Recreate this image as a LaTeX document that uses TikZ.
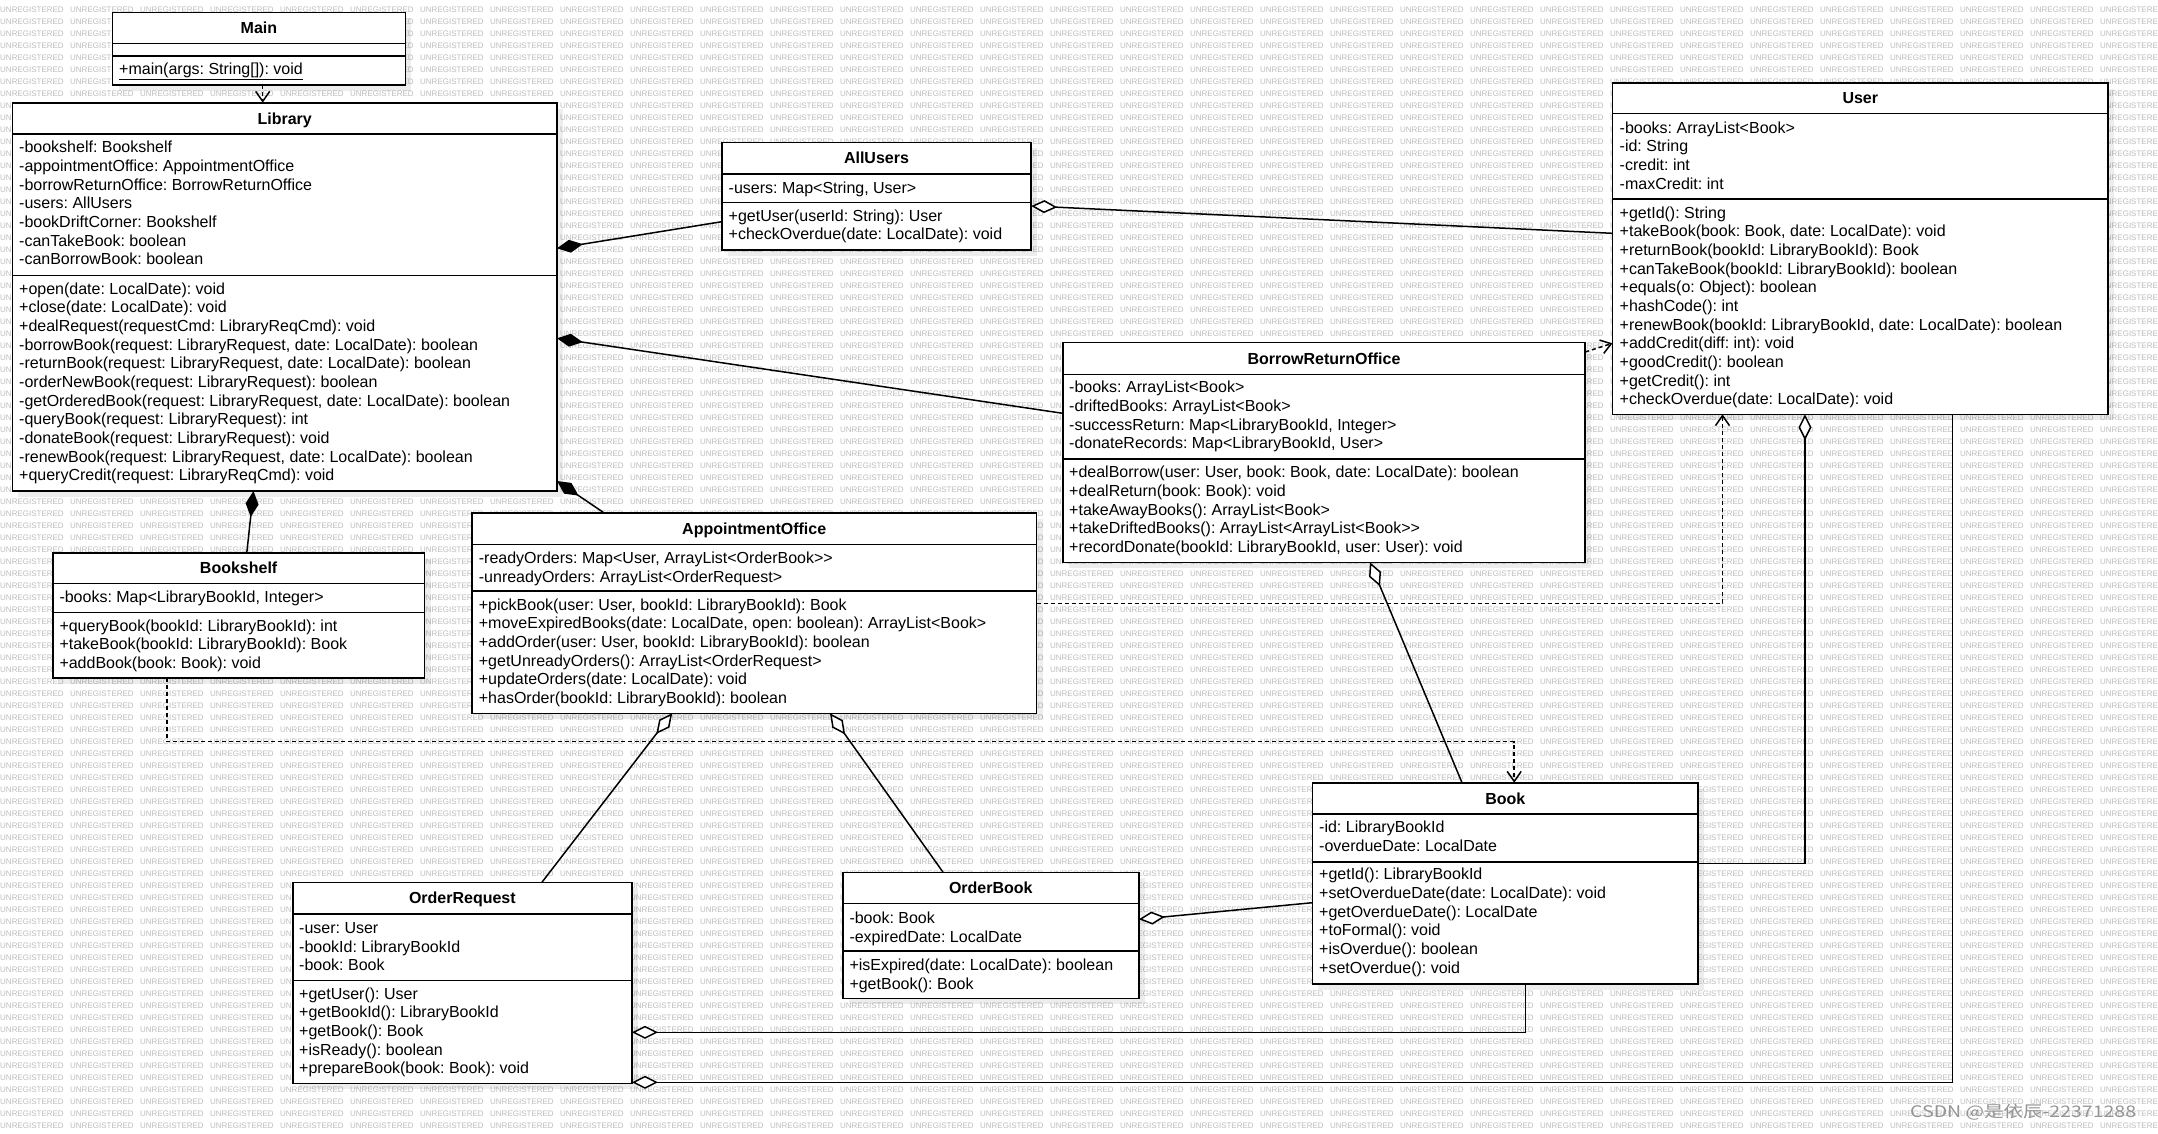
\documentclass[tikz,border=0pt]{standalone}
\usepackage{fontspec}
\newfontfamily\uml{Liberation Sans}
\newfontfamily\cjk{Noto Sans CJK SC}
\usetikzlibrary{arrows.meta}
\frenchspacing
\newcommand\wmw{\makebox[70pt][l]{UNREGISTERED}}
\newcommand\wmfour{\wmw\wmw\wmw\wmw}
\newcommand\wmrow{\wmfour\wmfour\wmfour\wmfour\wmfour\wmfour\wmfour\wmw\wmw\wmw}
\tikzset{
  box/.style={draw, line width=1.6pt, fill=white, inner sep=0pt, outer sep=0pt, anchor=north west},
  divider/.style={line width=1.6pt},
  boxshadow/.style={fill=black, opacity=0.07},
  ttl/.style={font=\uml\bfseries\fontsize{16}{19}\selectfont\frenchspacing, inner sep=0pt, anchor=base},
  mem/.style={font=\uml\fontsize{16}{19}\selectfont\frenchspacing, inner sep=0pt, anchor=base west},
  wm/.style={font=\uml\fontsize{8}{8}\selectfont, text=black!26, inner sep=0pt, anchor=base west},
  conn/.style={line width=1.5pt},
  comp/.style={conn, {Diamond[length=26pt,width=13pt]}-},
  aggr/.style={conn, {Diamond[open,fill=white,length=26pt,width=13pt]}-},
  dep/.style={conn, dash pattern=on 4pt off 3pt, -{Straight Barb[length=10pt,width=14pt]}},
}
% #1 name, #2 left, #3 top, #4 right, #5 header line, #6 divider, #7 bottom, #8 title
\newcommand\umlbox[8]{%
  \fill[boxshadow] ({#2+6},{#3+6}) rectangle ({#4+6},{#7+6});
  \node[box, minimum width={(#4-#2)*1pt}, minimum height={(#7-#3)*1pt}] (#1) at (#2,#3) {};
  \draw[divider] (#2,#5) -- (#4,#5);
  \draw[divider] (#2,#6) -- (#4,#6);
  \node[ttl] (#1t) at ({(#2+#4)/2},{(#3+#5)/2+5.8}) {#8};
}
% #1 prefix, #2 x, #3 first line centre, #4 list
\newcommand\mlist[4]{%
  \foreach \mt [count=\mi] in {#4}{\node[mem] (#1\mi) at (#2,{#3+5.5+(\mi-1)*18.65}) {\mt};}
}
\begin{document}
\begin{tikzpicture}[x=1pt,y=-1pt]
\useasboundingbox (0,0) rectangle (2158,1133);
\fill[white] (0,0) rectangle (2158,1133);
% watermark
\foreach \k in {0,...,93} \node[wm] (wm\k) at (0,{12+12*\k}) {\wmrow};
\node[font=\cjk\fontsize{16}{16}\selectfont, text=black!42, inner sep=0pt, anchor=west] (csdn) at (1910,1112.3) {\scalebox{1.22}[1]{CSDN @是依辰-22371288}};

% ---- classes ----
\umlbox{main}{112.5}{12.3}{405.4}{43.3}{56}{85}{Main}
\node[mem] (main1) at (119,{69.3+5.5}) {\underline{+main(args: String[]): void}};

\umlbox{lib}{12.4}{102.7}{557}{133.7}{275.3}{491}{Library}
\mlist{liba}{19}{147.3}{{-bookshelf: Bookshelf},{-appointmentOffice: AppointmentOffice},{-borrowReturnOffice: BorrowReturnOffice},{-users: AllUsers},{-bookDriftCorner: Bookshelf},{-canTakeBook: boolean},{-canBorrowBook: boolean}}
\mlist{libm}{19}{288.7}{{+open(date: LocalDate): void},{+close(date: LocalDate): void},{+dealRequest(requestCmd: LibraryReqCmd): void},{-borrowBook(request: LibraryRequest, date: LocalDate): boolean},{-returnBook(request: LibraryRequest, date: LocalDate): boolean},{-orderNewBook(request: LibraryRequest): boolean},{-getOrderedBook(request: LibraryRequest, date: LocalDate): boolean},{-queryBook(request: LibraryRequest): int},{-donateBook(request: LibraryRequest): void},{-renewBook(request: LibraryRequest, date: LocalDate): boolean},{+queryCredit(request: LibraryReqCmd): void}}

\umlbox{au}{721.8}{142.3}{1031.2}{173.7}{202.3}{249.7}{AllUsers}
\mlist{aua}{728.5}{187.7}{{-users: Map<String, User>}}
\mlist{aum}{728.5}{215.7}{{+getUser(userId: String): User},{+checkOverdue(date: LocalDate): void}}

\umlbox{user}{1612.4}{82.7}{2108.2}{113.3}{198.7}{414.3}{User}
\mlist{usera}{1619.5}{127.7}{{-books: ArrayList<Book>},{-id: String},{-credit: int},{-maxCredit: int}}
\mlist{userm}{1619.5}{212.7}{{+getId(): String},{+takeBook(book: Book, date: LocalDate): void},{+returnBook(bookId: LibraryBookId): Book},{+canTakeBook(bookId: LibraryBookId): boolean},{+equals(o: Object): boolean},{+hashCode(): int},{+renewBook(bookId: LibraryBookId, date: LocalDate): boolean},{+addCredit(diff: int): void},{+goodCredit(): boolean},{+getCredit(): int},{+checkOverdue(date: LocalDate): void}}

\umlbox{bro}{1062.8}{342.3}{1585.2}{374.3}{459}{562.3}{BorrowReturnOffice}
\mlist{broa}{1069}{387.3}{{-books: ArrayList<Book>},{-driftedBooks: ArrayList<Book>},{-successReturn: Map<LibraryBookId, Integer>},{-donateRecords: Map<LibraryBookId, User>}}
\mlist{brom}{1069}{472.3}{{+dealBorrow(user: User, book: Book, date: LocalDate): boolean},{+dealReturn(book: Book): void},{+takeAwayBooks(): ArrayList<Book>},{+takeDriftedBooks(): ArrayList<ArrayList<Book>>},{+recordDonate(bookId: LibraryBookId, user: User): void}}

\umlbox{bs}{52.7}{552.7}{424.6}{583.3}{612.3}{678}{Bookshelf}
\mlist{bsa}{59.3}{597.3}{{-books: Map<LibraryBookId, Integer>}}
\mlist{bsm}{59.3}{625.7}{{+queryBook(bookId: LibraryBookId): int},{+takeBook(bookId: LibraryBookId): Book},{+addBook(book: Book): void}}

\umlbox{ao}{471.9}{512.7}{1036.5}{544.3}{591}{713.3}{AppointmentOffice}
\mlist{aoa}{478.7}{558}{{-readyOrders: Map<User, ArrayList<OrderBook>>},{-unreadyOrders: ArrayList<OrderRequest>}}
\mlist{aom}{478.7}{604.7}{{+pickBook(user: User, bookId: LibraryBookId): Book},{+moveExpiredBooks(date: LocalDate, open: boolean): ArrayList<Book>},{+addOrder(user: User, bookId: LibraryBookId): boolean},{+getUnreadyOrders(): ArrayList<OrderRequest>},{+updateOrders(date: LocalDate): void},{+hasOrder(bookId: LibraryBookId): boolean}}

\umlbox{book}{1312.4}{782.7}{1698.1}{814}{861.7}{983.7}{Book}
\mlist{booka}{1319}{827.3}{{-id: LibraryBookId},{-overdueDate: LocalDate}}
\mlist{bookm}{1319}{874.3}{{+getId(): LibraryBookId},{+setOverdueDate(date: LocalDate): void},{+getOverdueDate(): LocalDate},{+toFormal(): void},{+isOverdue(): boolean},{+setOverdue(): void}}

\umlbox{or}{292.7}{882.3}{632}{913.7}{980.3}{1083.3}{OrderRequest}
\mlist{ora}{299}{928}{{-user: User},{-bookId: LibraryBookId},{-book: Book}}
\mlist{orm}{299}{993.7}{{+getUser(): User},{+getBookId(): LibraryBookId},{+getBook(): Book},{+isReady(): boolean},{+prepareBook(book: Book): void}}

\umlbox{ob}{842.7}{872.3}{1138.9}{903.3}{950.7}{998.3}{OrderBook}
\mlist{oba}{849.3}{918.3}{{-book: Book},{-expiredDate: LocalDate}}
\mlist{obm}{849.3}{965}{{+isExpired(date: LocalDate): boolean},{+getBook(): Book}}

% ---- connectors ----
\draw[dep] (main.south -| 262.7,0) -- (lib.north -| 262.7,0);
\draw[comp] (lib.east |- 0,248.3) -- (au.west |- 0,221.7);
\draw[comp] (lib.east |- 0,338.3) -- (bro.west |- 0,413.3);
\draw[comp] (lib.east |- 0,481) -- (ao.north -| 603.8,0);
\draw[comp] (lib.south -| 253.5,0) -- (bs.north -| 246.8,0);
\draw[aggr] (au.east |- 0,206) -- (user.west |- 0,233.3);
\draw[dep] (bro.east |- 0,352) -- (user.west |- 0,343.3);
\draw[dep] (ao.east |- 0,603.3) -| (user.south -| 1722.5,0);
\coordinate (bsbk) at (167,741.7);
\draw[dep] (bs.south -| 167,0) -- (bsbk) -| (book.north -| 1514.2,0);
\draw[aggr] (bro.south -| 1370,0) -- (book.north -| 1462,0);
\draw[aggr] (ao.south -| 672.2,0) -- (or.north -| 541.9,0);
\draw[aggr] (ao.south -| 830,0) -- (ob.north -| 943.1,0);
\draw[aggr] (ob.east |- 0,919.3) -- (book.west |- 0,902.7);
\draw[aggr] (or.east |- 0,1032.3) -| (book.south -| 1525.6,0);
\draw[aggr] (or.east |- 0,1082.3) -| (user.south -| 1952.5,0);
\draw[aggr] (user.south -| 1805,0) |- (book.east |- 0,863.3);
\end{tikzpicture}
\end{document}
